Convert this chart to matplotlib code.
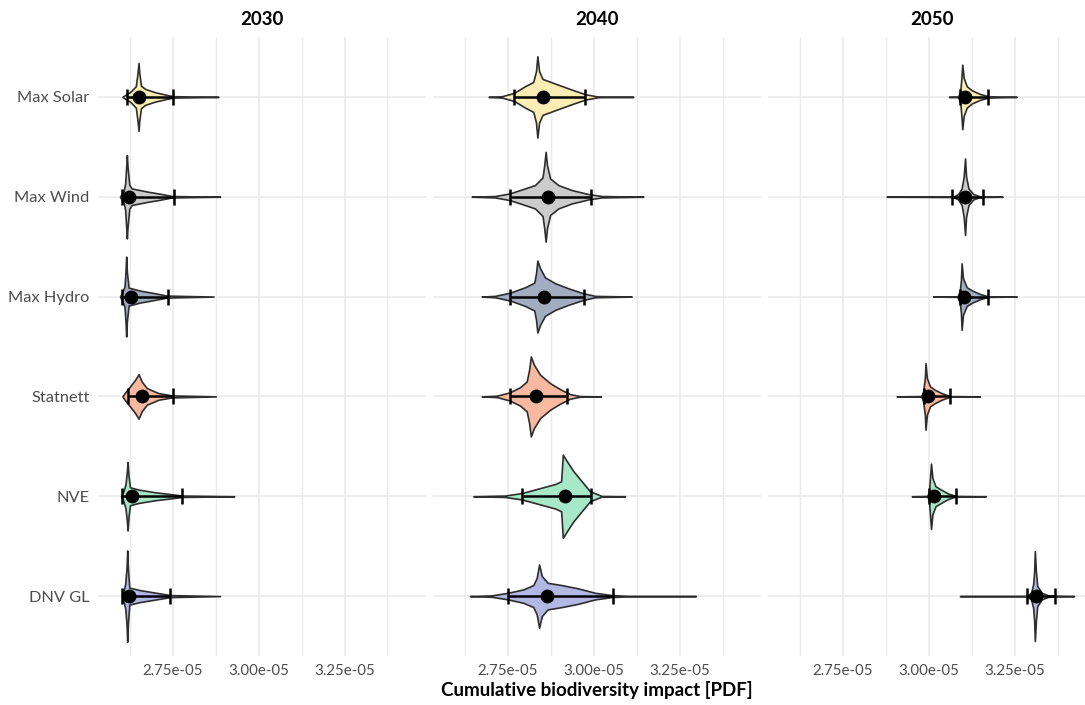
import numpy as np
import matplotlib.pyplot as plt
from matplotlib.ticker import FixedLocator, FuncFormatter

plt.rcParams["font.family"] = ["Lato", "DejaVu Sans"]

scenarios = ["Max Solar", "Max Wind", "Max Hydro", "Statnett", "NVE", "DNV GL"]
fills = ["#FCEDB4", "#CCCCCC", "#A3ADC2", "#F9B9A0", "#A6E8C8", "#B3B7E4"]
years = ["2030", "2040", "2050"]

# violin profiles: impact values (x 1e-5) and half-width of the density (row units)
x_2030 = [
    [2.604, 2.614, 2.626, 2.643, 2.648, 2.651, 2.653, 2.658, 2.670, 2.699, 2.733, 2.752, 2.883],
    [2.597, 2.602, 2.607, 2.612, 2.615, 2.617, 2.619, 2.624, 2.631, 2.679, 2.714, 2.748, 2.888],
    [2.597, 2.603, 2.610, 2.613, 2.615, 2.617, 2.622, 2.655, 2.699, 2.733, 2.869],
    [2.604, 2.612, 2.626, 2.641, 2.651, 2.660, 2.675, 2.709, 2.748, 2.876],
    [2.600, 2.607, 2.613, 2.617, 2.619, 2.622, 2.626, 2.651, 2.699, 2.748, 2.777, 2.929],
    [2.602, 2.607, 2.612, 2.616, 2.618, 2.620, 2.624, 2.655, 2.699, 2.743, 2.888],
]
w_2030 = [
    [0, .023, .047, .107, .24, .34, .24, .113, .08, .047, .02, .007, 0],
    [0, .03, .05, .133, .30, .417, .30, .12, .083, .05, .03, .007, 0],
    [0, .04, .10, .25, .40, .25, .09, .06, .033, .01, 0],
    [0, .04, .10, .167, .223, .15, .083, .033, .01, 0],
    [0, .05, .12, .25, .343, .20, .09, .067, .04, .02, .007, 0],
    [0, .05, .12, .28, .457, .28, .085, .06, .035, .01, 0],
]
x_2040 = [
    [2.694, 2.733, 2.768, 2.800, 2.824, 2.832, 2.836, 2.841, 2.851, 2.888, 2.936, 2.975, 3.013, 3.115],
    [2.645, 2.713, 2.755, 2.791, 2.829, 2.851, 2.856, 2.860, 2.864, 2.873, 2.897, 2.936, 2.984, 3.023, 3.144],
    [2.674, 2.713, 2.757, 2.800, 2.827, 2.832, 2.836, 2.844, 2.858, 2.888, 2.926, 2.970, 3.004, 3.110],
    [2.674, 2.718, 2.755, 2.786, 2.805, 2.812, 2.817, 2.826, 2.844, 2.873, 2.902, 2.931, 2.960, 3.021],
    [2.650, 2.742, 2.792, 2.839, 2.888, 2.905, 2.907, 2.910, 2.922, 2.941, 2.965, 2.989, 3.023, 3.091],
    [2.640, 2.703, 2.750, 2.795, 2.824, 2.834, 2.841, 2.849, 2.866, 2.907, 2.955, 3.004, 3.052, 3.101, 3.297],
]
w_2040 = [
    [0, .007, .04, .107, .15, .257, .407, .257, .18, .133, .073, .027, .003, 0],
    [0, .007, .033, .073, .117, .193, .317, .45, .317, .183, .117, .067, .027, .007, 0],
    [0, .007, .04, .093, .14, .233, .36, .283, .193, .133, .083, .033, .007, 0],
    [0, .007, .04, .093, .15, .267, .40, .317, .217, .133, .073, .023, .003, 0],
    [0, .007, .033, .077, .123, .15, .25, .417, .35, .25, .15, .05, .003, 0],
    [0, .007, .033, .067, .11, .183, .317, .20, .133, .11, .077, .033, .01, .002, 0],
]
x_2050 = [
    [3.058, 3.085, 3.091, 3.094, 3.097, 3.101, 3.110, 3.124, 3.148, 3.172, 3.255],
    [2.877, 3.071, 3.085, 3.095, 3.101, 3.105, 3.108, 3.115, 3.129, 3.148, 3.214],
    [3.012, 3.085, 3.090, 3.093, 3.095, 3.099, 3.110, 3.126, 3.148, 3.171, 3.255],
    [2.906, 2.979, 2.983, 2.988, 2.990, 2.994, 3.003, 3.017, 3.037, 3.061, 3.148],
    [2.950, 2.996, 3.000, 3.003, 3.006, 3.010, 3.019, 3.035, 3.056, 3.078, 3.165],
    [3.090, 3.284, 3.297, 3.303, 3.306, 3.308, 3.311, 3.315, 3.328, 3.347, 3.422],
]
w_2050 = [
    [0, .003, .057, .173, .323, .19, .107, .067, .03, .007, 0],
    [0, .003, .027, .083, .20, .383, .20, .083, .027, .003, 0],
    [0, .003, .067, .167, .333, .183, .093, .06, .027, .003, 0],
    [0, .003, .05, .183, .333, .183, .10, .067, .033, .003, 0],
    [0, .003, .05, .183, .327, .183, .10, .067, .027, .003, 0],
    [0, .003, .033, .117, .25, .45, .25, .10, .033, .007, 0],
]

# central estimate and interval bounds (x 1e-5)
mid_2030 = [2.653, 2.622, 2.628, 2.660, 2.633, 2.624]
lo_2030 = [2.618, 2.603, 2.603, 2.620, 2.602, 2.603]
hi_2030 = [2.751, 2.754, 2.738, 2.752, 2.778, 2.741]
mid_2040 = [2.852, 2.868, 2.856, 2.832, 2.917, 2.863]
lo_2040 = [2.768, 2.755, 2.757, 2.755, 2.792, 2.750]
hi_2040 = [2.975, 2.991, 2.973, 2.923, 2.991, 3.055]
mid_2050 = [3.105, 3.105, 3.103, 2.998, 3.015, 3.311]
lo_2050 = [3.090, 3.066, 3.090, 2.986, 3.000, 3.284]
hi_2050 = [3.172, 3.156, 3.171, 3.061, 3.078, 3.366]

profiles = {"2030": (x_2030, w_2030, mid_2030, lo_2030, hi_2030),
            "2040": (x_2040, w_2040, mid_2040, lo_2040, hi_2040),
            "2050": (x_2050, w_2050, mid_2050, lo_2050, hi_2050)}

S = 1e-5
fig = plt.figure(figsize=(10.85, 7.05), dpi=100)
W, H = 1085, 705
lefts = [98, 433.2, 768.4]
pw, top, bottom = 328, 37, 656

axes = []
for k, year in enumerate(years):
    ax = fig.add_axes([lefts[k] / W, (H - bottom) / H, pw / W, (bottom - top) / H])
    axes.append(ax)
    xs, ws, mid, lo, hi = profiles[year]
    for i, name in enumerate(scenarios):
        pos = len(scenarios) - i
        x = np.array(xs[i]) * S
        w = np.array(ws[i])
        ax.fill_between(x, pos - w, pos + w, facecolor=fills[i], edgecolor="#2E2E2E",
                        linewidth=1.2, zorder=2)
        m = mid[i] * S
        ax.errorbar(m, pos, xerr=[[m - lo[i] * S], [hi[i] * S - m]], fmt="o", color="black",
                    ms=9, elinewidth=1.8, capsize=6, capthick=1.8, zorder=3)

    ax.set_xlim(2.533 * S, 3.487 * S)
    ax.set_ylim(0.4, 6.6)
    ax.xaxis.set_major_locator(FixedLocator([2.75 * S, 3.00 * S, 3.25 * S]))
    ax.xaxis.set_minor_locator(FixedLocator([2.625 * S, 2.875 * S, 3.125 * S, 3.375 * S]))
    ax.xaxis.set_major_formatter(FuncFormatter(lambda v, p: f"{v:.2e}"))
    ax.set_yticks(range(1, len(scenarios) + 1))
    ax.set_yticklabels(scenarios[::-1] if k == 0 else [])
    ax.grid(True, which="major", color="#EBEBEB", linewidth=1.2, zorder=0)
    ax.grid(True, which="minor", axis="x", color="#EBEBEB", linewidth=1.0, zorder=0)
    ax.set_axisbelow(True)
    ax.tick_params(which="both", length=0, labelcolor="#4D4D4D")
    ax.tick_params(axis="x", pad=6, labelsize=10.8)
    ax.tick_params(axis="y", pad=6, labelsize=11.8)
    for sp in ax.spines.values():
        sp.set_visible(False)
    ax.text(0.5, 1.028, year, transform=ax.transAxes, ha="center", va="center",
            fontsize=13.5, fontweight="bold")

fig.text(597 / W, 1 - 690 / H, "Cumulative biodiversity impact [PDF]", ha="center",
         va="center", fontsize=13.5, fontweight="bold")

fig.savefig("out.png", dpi=100)
